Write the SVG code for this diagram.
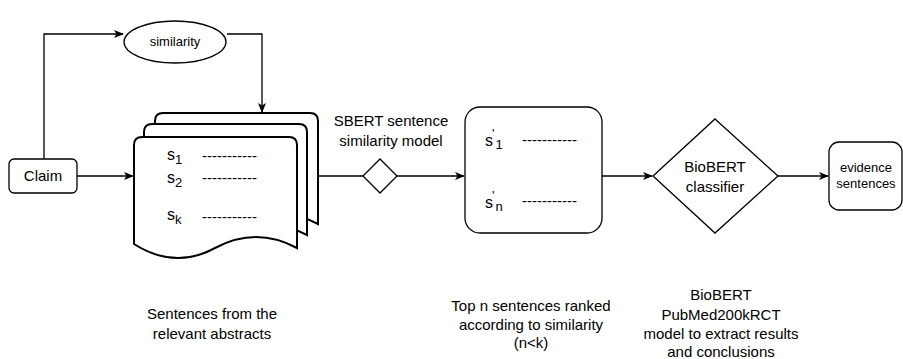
<svg xmlns="http://www.w3.org/2000/svg" width="903" height="359" viewBox="0 0 903 359">
<style>
text{font-family:"Liberation Sans",Arial,Helvetica,sans-serif;fill:#000}
.lbl{font-size:15px;text-anchor:middle}
.sm{font-size:13px;text-anchor:middle}
.shape{fill:#fff;stroke:#000;stroke-width:1.3}
.doc{fill:#fff;stroke:#000;stroke-width:2}
.edge{fill:none;stroke:#000;stroke-width:1.3}
.s{font-size:16px}
.sub{font-size:13px}
.dash{font-size:15px}
</style>
<defs>
<marker id="arr" viewBox="0 0 10 10" refX="9" refY="5" markerWidth="10" markerHeight="10" markerUnits="userSpaceOnUse" orient="auto">
<path d="M0,1 L10,5 L0,9 L2.5,5 Z" fill="#000"/>
</marker>
<path id="docshape" d="M0,8 Q0,0 8,0 L155,0 Q163,0 163,8 L163,111 Q122,89 81,111 Q41,133 0,107 Z"/>
</defs>
<g id="connectors">
<polyline class="edge" points="44,159 44,34 123,34" marker-end="url(#arr)"/>
<polyline class="edge" points="227,34 262,34 262,112" marker-end="url(#arr)"/>
<line class="edge" x1="77" y1="176" x2="133" y2="176" marker-end="url(#arr)"/>
<line class="edge" x1="317" y1="176" x2="363" y2="176"/>
<line class="edge" x1="397" y1="176" x2="464" y2="176" marker-end="url(#arr)"/>
<line class="edge" x1="602" y1="176" x2="652" y2="176" marker-end="url(#arr)"/>
<line class="edge" x1="778" y1="176" x2="828" y2="176" marker-end="url(#arr)"/>
</g>
<g id="claim">
<rect class="shape" x="9" y="159" width="68" height="34" rx="5"/>
<text class="lbl" x="43" y="181">Claim</text>
</g>
<g id="similarity">
<ellipse class="shape" cx="175" cy="42" rx="51" ry="21"/>
<text class="sm" x="175" y="46">similarity</text>
</g>
<g id="documents">
<use href="#docshape" class="doc" transform="translate(155,113)"/>
<use href="#docshape" class="doc" transform="translate(144,124)"/>
<use href="#docshape" class="doc" transform="translate(134,137)"/>
<text class="s" x="167" y="160">s<tspan class="sub" dy="4">1</tspan></text>
<text class="dash" x="202" y="161">-----------</text>
<text class="s" x="167" y="183">s<tspan class="sub" dy="4">2</tspan></text>
<text class="dash" x="202" y="183">-----------</text>
<text class="s" x="167" y="220">s<tspan class="sub" dy="4">k</tspan></text>
<text class="dash" x="202" y="222">-----------</text>
</g>
<g id="sbert">
<path class="shape" d="M380,159 L397,176 L380,193 L363,176 Z"/>
<text class="lbl" x="391" y="126">SBERT sentence</text>
<text class="lbl" x="391" y="146">similarity model</text>
</g>
<g id="topn">
<rect class="shape" x="465" y="107" width="137" height="126" rx="15"/>
<text class="s" x="485" y="146">s<tspan class="sub" dx="-1" dy="-8">'</tspan><tspan class="sub" dx="1" dy="11">1</tspan></text>
<text class="dash" x="522" y="145">-----------</text>
<text class="s" x="485" y="208">s<tspan class="sub" dx="-1" dy="-8">'</tspan><tspan class="sub" dx="1" dy="11">n</tspan></text>
<text class="dash" x="522" y="206">-----------</text>
</g>
<g id="classifier">
<path class="shape" d="M715,119 L778,176 L715,233 L653,176 Z"/>
<text class="lbl" x="715" y="172">BioBERT</text>
<text class="lbl" x="715" y="192">classifier</text>
</g>
<g id="evidence">
<rect class="shape" x="829" y="142" width="73" height="68" rx="10"/>
<text class="sm" x="866" y="172">evidence</text>
<text class="sm" x="866" y="188">sentences</text>
</g>
<g id="captions">
<text class="lbl" x="212" y="319">Sentences from the</text>
<text class="lbl" x="212" y="339">relevant abstracts</text>
<text class="lbl" x="531" y="311">Top n sentences ranked</text>
<text class="lbl" x="531" y="330">according to similarity</text>
<text class="lbl" x="531" y="348">(n&lt;k)</text>
<text class="lbl" x="721" y="300">BioBERT</text>
<text class="lbl" x="721" y="320">PubMed200kRCT</text>
<text class="lbl" x="721" y="339">model to extract results</text>
<text class="lbl" x="721" y="357">and conclusions</text>
</g>
</svg>
